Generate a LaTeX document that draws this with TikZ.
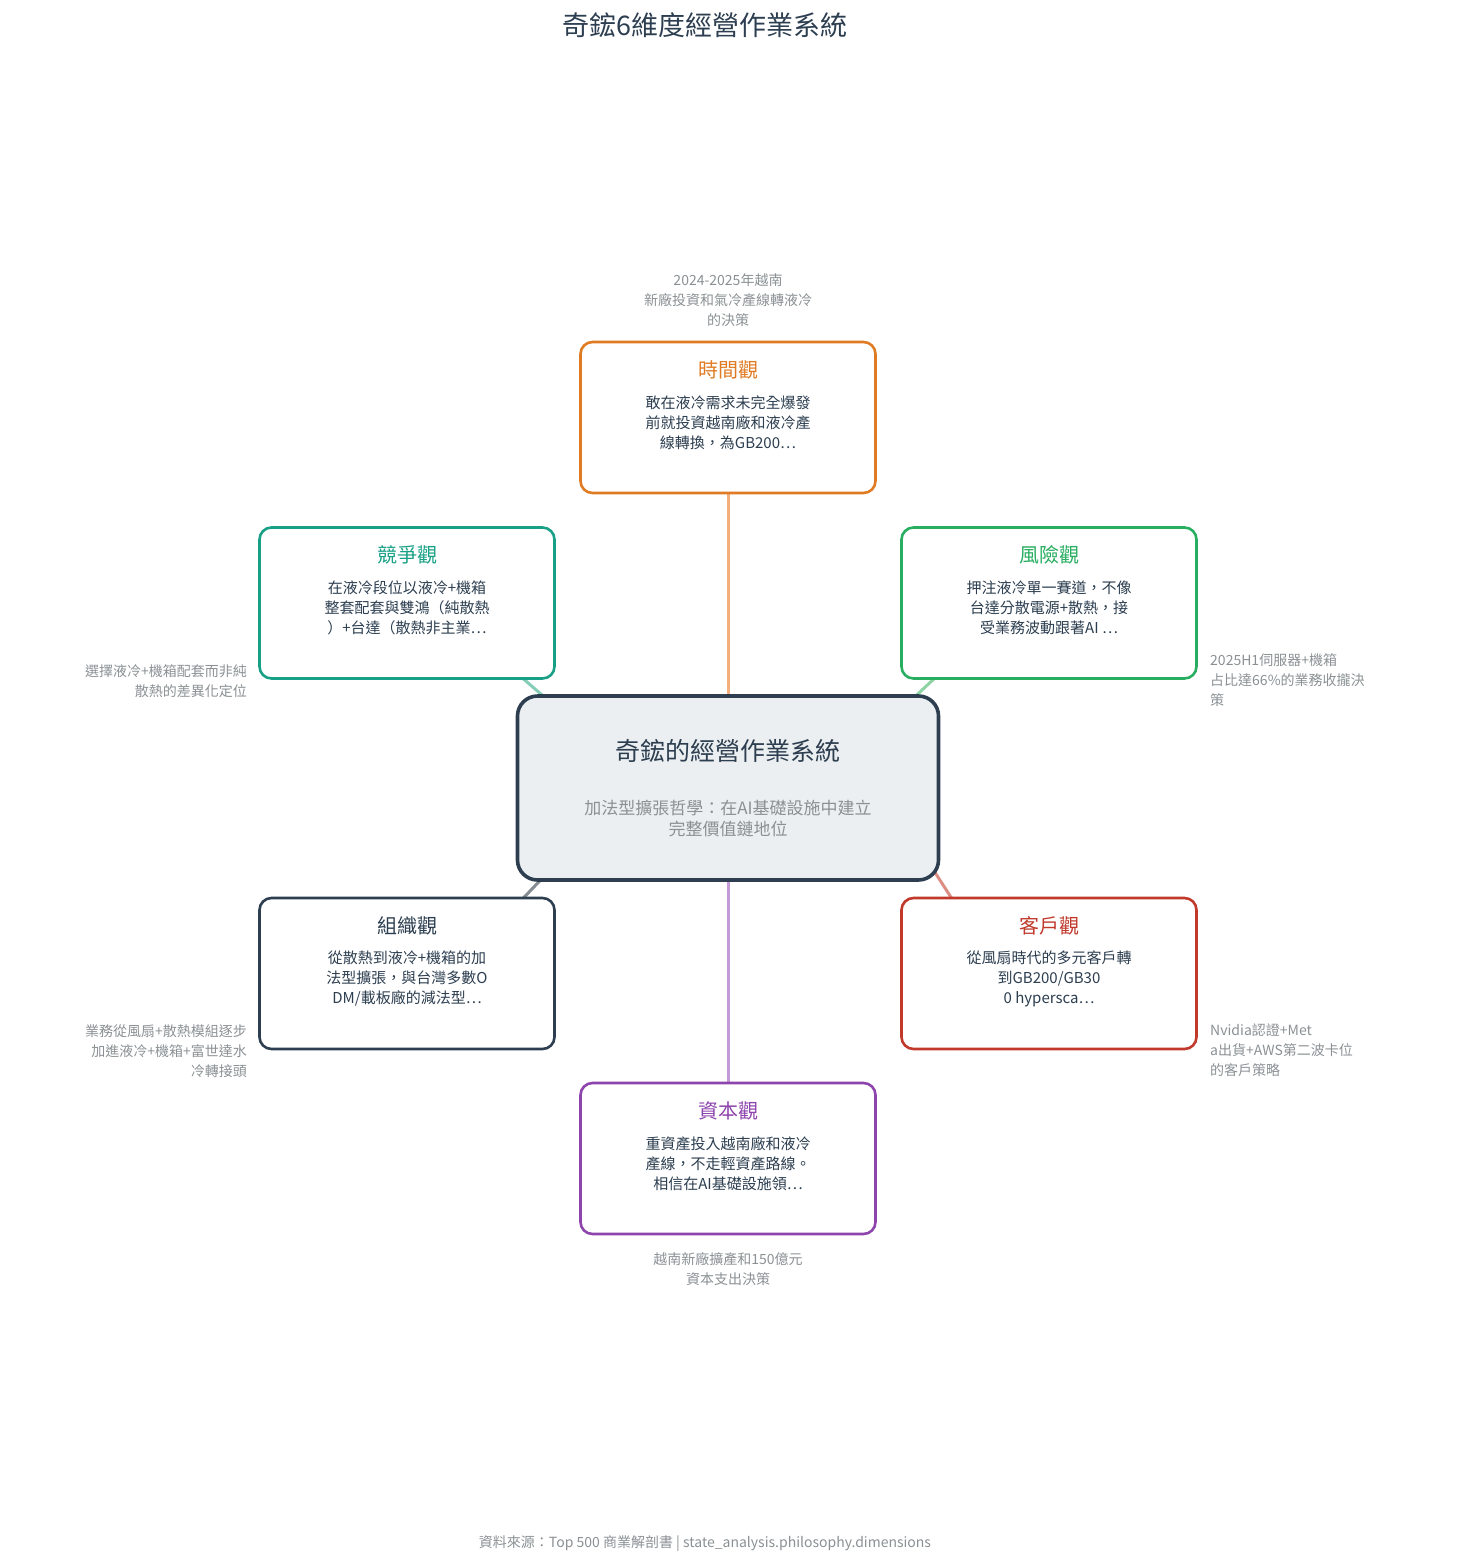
\documentclass[tikz,border=0pt]{standalone}
\usepackage{fontspec}
\setmainfont{Noto Sans CJK TC}
\usetikzlibrary{calc}
\pgfdeclarelayer{background}
\pgfsetlayers{background,main}
\definecolor{dark}{HTML}{2C3E50}
\definecolor{annogray}{HTML}{8A9093}
\definecolor{cfill}{HTML}{ECEFF1}
\definecolor{corange}{HTML}{E07B24}
\definecolor{lorange}{HTML}{F3B07C}
\definecolor{cteal}{HTML}{17A085}
\definecolor{lteal}{HTML}{86CDB8}
\definecolor{cgreen}{HTML}{27AE60}
\definecolor{lgreen}{HTML}{8ED3A4}
\definecolor{cred}{HTML}{C0392B}
\definecolor{lred}{HTML}{DC8D84}
\definecolor{cpurple}{HTML}{8E44AD}
\definecolor{lpurple}{HTML}{C49BD6}
\definecolor{lgray}{HTML}{858C93}
\tikzset{
  box/.style={draw, line width=2.6pt, rounded corners=12pt, fill=white,
    minimum width=295pt, minimum height=151pt, inner sep=0pt},
  btitle/.style={font=\fontsize{20}{24}\selectfont, inner sep=0pt},
  bbody/.style={font=\fontsize{15}{20}\selectfont, text=dark, align=center, inner sep=0pt},
  anno/.style={font=\fontsize{14}{20}\selectfont, text=annogray, inner sep=0pt},
  conn/.style={line width=3pt},
}
\begin{document}
\begin{tikzpicture}[x=1pt,y=-1pt]
\useasboundingbox (0,0) rectangle (1456,1563);
% title
\node[font=\fontsize{27}{30}\selectfont, text=dark, inner sep=0pt] (title) at (705,25) {奇鋐6維度經營作業系統};
% boxes
\node[draw, line width=3.6pt, rounded corners=20pt, fill=cfill, draw=dark,
  minimum width=421pt, minimum height=184pt, inner sep=0pt] (cBox) at (728,788) {};
\node[box, draw=corange] (tBox) at (728,417.5) {};
\node[box, draw=cteal] (comp) at (407,603) {};
\node[box, draw=cgreen] (risk) at (1049,603) {};
\node[box, draw=dark] (org) at (407,973.5) {};
\node[box, draw=cred] (cust) at (1049,973.5) {};
\node[box, draw=cpurple] (cap) at (728,1158.5) {};
% connectors behind the boxes
\begin{pgfonlayer}{background}
\draw[conn, lorange] (tBox.center) -- (tBox.center |- cBox.center);
\draw[conn, lpurple] (cap.center) -- (cap.center |- cBox.center);
\draw[conn, lteal] ($(comp.south east)+(-36,-4)$) -- ($(cBox.north west)+(30,4)$);
\draw[conn, lgreen] ($(risk.south west)+(37,-4)$) -- ($(cBox.north east)+(-27,4)$);
\draw[conn, lgray] ($(cBox.south west)+(27,-4)$) -- ($(org.north east)+(-35,4)$);
\draw[conn, lred] ($(cBox.south east)+(-7,-12)$) -- ($(cust.north west)+(53,4)$);
\end{pgfonlayer}
% center text
\node[font=\fontsize{25}{28}\selectfont, text=dark, inner sep=0pt] (cTit) at ($(cBox.north)+(0,57)$) {奇鋐的經營作業系統};
\node[font=\fontsize{17}{21}\selectfont, text=annogray, align=center, inner sep=0pt] (cSub) at ($(cBox.north)+(0,124)$) {加法型擴張哲學：在AI基礎設施中建立\\完整價值鏈地位};
% box titles and bodies
\node[btitle, text=corange] (tTit) at ($(tBox.north)+(0,29)$) {時間觀};
\node[bbody] (tBody) at ($(tBox.north)+(0,82)$) {敢在液冷需求未完全爆發\\前就投資越南廠和液冷產\\線轉換，為GB200…};
\node[btitle, text=cteal] (cmTit) at ($(comp.north)+(0,29)$) {競爭觀};
\node[bbody] (cmBody) at ($(comp.north)+(0,82)$) {在液冷段位以液冷+機箱\\整套配套與雙鴻（純散熱\\）+台達（散熱非主業…};
\node[btitle, text=cgreen] (rTit) at ($(risk.north)+(0,29)$) {風險觀};
\node[bbody] (rBody) at ($(risk.north)+(0,82)$) {押注液冷單一賽道，不像\\台達分散電源+散熱，接\\受業務波動跟著AI …};
\node[btitle, text=dark] (oTit) at ($(org.north)+(0,29)$) {組織觀};
\node[bbody] (oBody) at ($(org.north)+(0,82)$) {從散熱到液冷+機箱的加\\法型擴張，與台灣多數O\\DM/載板廠的減法型…};
\node[btitle, text=cred] (kTit) at ($(cust.north)+(0,29)$) {客戶觀};
\node[bbody] (kBody) at ($(cust.north)+(0,82)$) {從風扇時代的多元客戶轉\\到GB200/GB30\\0 hypersca…};
\node[btitle, text=cpurple] (pTit) at ($(cap.north)+(0,29)$) {資本觀};
\node[bbody] (pBody) at ($(cap.north)+(0,82)$) {重資產投入越南廠和液冷\\產線，不走輕資產路線。\\相信在AI基礎設施領…};
% annotations
\node[anno, align=center] (aT) at (728,300) {2024-2025年越南\\新廠投資和氣冷產線轉液冷\\的決策};
\node[anno, align=right, anchor=east] (aC) at (247,681) {選擇液冷+機箱配套而非純\\散熱的差異化定位};
\node[anno, align=left, anchor=west] (aR) at (1210,680) {2025H1伺服器+機箱\\占比達66\%的業務收攏決\\策};
\node[anno, align=right, anchor=east] (aO) at (247,1051) {業務從風扇+散熱模組逐步\\加進液冷+機箱+富世達水\\冷轉接頭};
\node[anno, align=left, anchor=west] (aK) at (1210,1050) {Nvidia認證+Met\\a出貨+AWS第二波卡位\\的客戶策略};
\node[anno, align=center] (aP) at (728,1269) {越南新廠擴產和150億元\\資本支出決策};
% footer
\node[anno] (foot) at (705,1544) {資料來源：Top 500 商業解剖書 | state\_analysis.philosophy.dimensions};
\end{tikzpicture}
\end{document}
